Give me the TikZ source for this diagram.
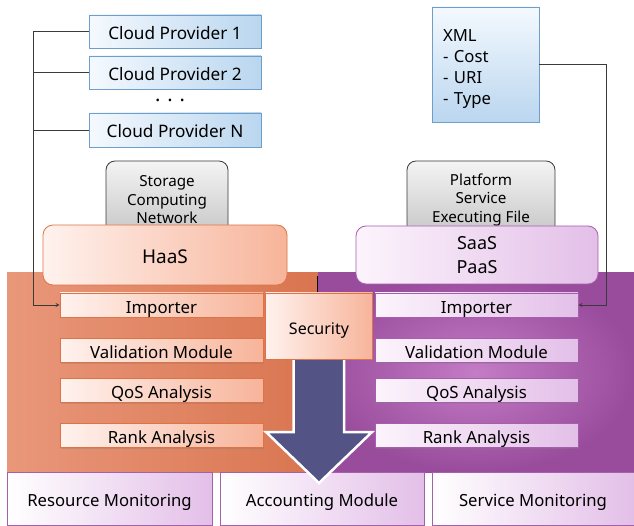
\documentclass[tikz,border=0pt]{standalone}
\usepackage{fontspec}
\setmainfont{Noto Sans}
\usetikzlibrary{shadows,calc}
\definecolor{cpl}{HTML}{F4F9FE}
\definecolor{cpr}{HTML}{BAD6EF}
\definecolor{cpb}{HTML}{6E9FCB}
\definecolor{orl}{HTML}{FFF2EE}
\definecolor{orr}{HTML}{F7B49A}
\definecolor{orb}{HTML}{DE7446}
\definecolor{pul}{HTML}{FCF4FC}
\definecolor{pur}{HTML}{E3BFE8}
\definecolor{pub}{HTML}{A65EAE}
\definecolor{panl}{HTML}{E9977A}
\definecolor{panr}{HTML}{D97550}
\definecolor{ppin}{HTML}{C47CC6}
\definecolor{ppout}{HTML}{994C9C}
\definecolor{grl}{HTML}{F4F4F4}
\definecolor{grr}{HTML}{C4C4C4}
\definecolor{arrowc}{HTML}{535386}
\definecolor{linec}{HTML}{3A3A3A}
\begin{document}
\begin{tikzpicture}[x=1pt,y=-1pt,
  shad/.style={drop shadow={shadow xshift=1.2pt,shadow yshift=-1.5pt,opacity=0.35}},
  low/.style={text height=#1,text depth=0pt},
  cloudbox/.style={draw=cpb,line width=0.8pt,left color=cpl,right color=cpr,minimum width=172pt,minimum height=33pt,inner sep=0pt,font=\fontsize{17.2}{20}\selectfont,shad,low=16pt},
  graybox/.style={draw=linec,line width=0.8pt,rounded corners=9pt,top color=grl,bottom color=grr,minimum height=78pt,inner sep=0pt,align=center,font=\fontsize{15.2}{18.5}\selectfont},
  lmod/.style={draw=orb,line width=0.8pt,left color=orl,right color=orr,minimum width=203pt,minimum height=24pt,inner sep=0pt,font=\fontsize{16.8}{19}\selectfont,shad,low=16pt},
  rmod/.style={draw=pub,line width=0.8pt,left color=pul,right color=pur,minimum width=203pt,minimum height=24pt,inner sep=0pt,font=\fontsize{16.8}{19}\selectfont,shad,low=16pt},
  botbox/.style={draw=pub,line width=0.8pt,left color=white,right color=pur,minimum height=53pt,inner sep=0pt,font=\fontsize{16.7}{19}\selectfont,low=16pt},
  conn/.style={draw=linec,line width=0.8pt},
  tip/.style={-stealth}
]
\useasboundingbox (0,0) rectangle (634,526);
% panels
\node[left color=panl,right color=panr,minimum width=311pt,minimum height=199pt,inner sep=0pt] (lpanel) at (162.5,372.5) {};
\node[inner color=ppin,outer color=ppout,minimum width=316pt,minimum height=199pt,inner sep=0pt] (rpanel) at (476,372.5) {};
% gray boxes
\node[graybox,minimum width=122pt] (stor) at (167,200) {Storage\\Computing\\Network};
\node[graybox,minimum width=148pt] (plat) at (481,200) {Platform\\Service\\Executing File};
% HaaS / SaaS
\node[draw=orb,line width=0.8pt,rounded corners=10pt,left color=orl,right color=orr,minimum width=244pt,minimum height=60pt,inner sep=0pt,font=\fontsize{19}{22}\selectfont,low=17pt] (haas) at (165,255) {HaaS};
\node[draw=pub,line width=0.8pt,rounded corners=10pt,left color=pul,right color=pur,minimum width=242pt,minimum height=58pt,inner sep=0pt,align=center,font=\fontsize{18}{24}\selectfont] (saas) at (477,255) {SaaS\\PaaS};
% cloud providers
\node[cloudbox] (cp1) at (175,31.5) {Cloud Provider 1};
\node[cloudbox] (cp2) at (175,72.5) {Cloud Provider 2};
\node[font=\fontsize{20}{20}\selectfont\bfseries] (dots) at (170,100) {. . .};
\node[cloudbox,minimum height=34pt] (cpn) at (175,130) {Cloud Provider N};
\node[draw=cpb,line width=0.8pt,top color=cpl,bottom color=cpr,minimum width=107pt,minimum height=115pt,inner xsep=11pt,inner ysep=0pt,text width=85pt,align=left,font=\fontsize{16.7}{21}\selectfont,shad,text height=22pt,text depth=67pt] (xml) at (485.5,64.5) {XML\\- Cost\\- URI\\- Type};
% modules
\node[lmod] (limp) at (161.5,305) {Importer};
\node[lmod] (lval) at (161.5,350) {Validation Module};
\node[lmod] (lqos) at (161.5,390.5) {QoS Analysis};
\node[lmod] (lrank) at (161.5,435.5) {Rank Analysis};
\node[rmod] (rimp) at (476.5,305) {Importer};
\node[rmod] (rval) at (476.5,350) {Validation Module};
\node[rmod] (rqos) at (476.5,390.5) {QoS Analysis};
\node[rmod] (rrank) at (476.5,435.5) {Rank Analysis};
% bottom boxes
\node[botbox,minimum width=205pt] (resm) at (109.5,498.5) {Resource Monitoring};
\node[botbox,minimum width=204pt] (accm) at (322,498.5) {Accounting Module};
\node[botbox,minimum width=202pt] (serm) at (533,498.5) {Service Monitoring};
% big arrow
\coordinate (sec) at (319,326);
\fill[arrowc,draw=white,line width=2.5pt,line join=miter]
  (293.5,355) -- (344,355) -- (344,432) -- (372,432) -- (319,483) -- (266,432) -- (293.5,432) -- cycle;
% divider tick
\draw[black,line width=1.2pt] (317.5,276) -- (317.5,293);
% security
\node[draw=orb,line width=0.8pt,left color=orl,right color=orr,minimum width=107pt,minimum height=66pt,inner sep=0pt,font=\fontsize{16}{18}\selectfont,low=17pt] (security) at (sec) {Security};
% connectors
\coordinate (lx) at (33,0);
\coordinate (rx) at (606,0);
\draw[conn,tip] (cp1.west) -- (cp1.west -| lx) |- (limp.west);
\draw[conn] (cp2.west) -- (cp2.west -| lx);
\draw[conn] (cpn.west) -- (cpn.west -| lx);
\draw[conn,tip] (xml.east) -- (xml.east -| rx) |- (rimp.east);
\end{tikzpicture}
\end{document}
